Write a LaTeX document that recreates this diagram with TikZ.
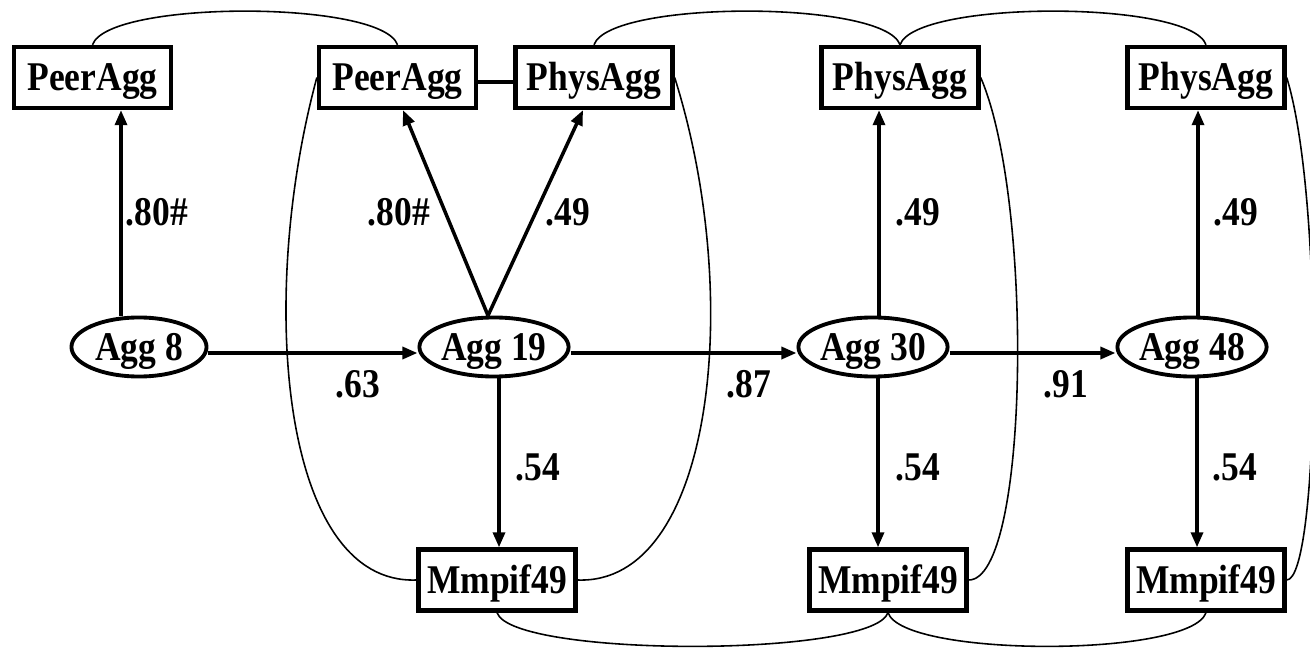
\documentclass[tikz,border=0pt]{standalone}
\usepackage{fontspec}
\setmainfont{Liberation Serif}[FakeStretch=0.87]
\usetikzlibrary{shapes.geometric, arrows.meta}

\tikzstyle{obs} = [draw, line width=1.2pt, minimum width=1.57cm, minimum height=0.61cm, inner sep=0pt, text height=7.6pt, text depth=0pt]
\tikzstyle{lat} = [draw, ellipse, line width=1.1pt, minimum width=1.35cm, minimum height=0.59cm, inner sep=0pt, text height=7.6pt, text depth=0pt]
\tikzstyle{path} = [line width=1pt, -{Triangle[length=4.3pt, width=3.4pt]}]
\tikzstyle{cov} = [line width=0.45pt]
\tikzstyle{coef} = [inner sep=0pt, text height=7.6pt, text depth=0pt]

\begin{document}
\begin{tikzpicture}[x=0.01cm, y=0.01cm, font=\bfseries\fontsize{11.6}{14}\selectfont]
\useasboundingbox (0,0) rectangle (1310,-652);

\node[obs] (peer1) at (92.5,-77.5) {PeerAgg};
\node[obs] (peer2) at (397.5,-77.5) {PeerAgg};
\node[obs] (phys2) at (594,-77.5) {PhysAgg};
\node[obs] (phys3) at (900,-77.5) {PhysAgg};
\node[obs] (phys4) at (1206,-77.5) {PhysAgg};

\node[lat] (agg8) at (139,-347) {Agg 8};
\node[lat] (agg19) at (494,-347) {Agg 19};
\node[lat] (agg30) at (873,-347) {Agg 30};
\node[lat] (agg48) at (1192,-347) {Agg 48};

\node[obs] (mm1) at (497,-580) {Mmpif49};
\node[obs] (mm2) at (888,-580) {Mmpif49};
\node[obs] (mm3) at (1206,-580) {Mmpif49};

\draw[path] ([xshift=-0.18cm]agg8.north) -- ([xshift=-0.18cm]agg8.north |- peer1.south);
\draw[path] ([xshift=-0.06cm]agg19.north) -- ([xshift=0.055cm]peer2.south);
\draw[path] ([xshift=-0.06cm]agg19.north) -- ([xshift=-0.11cm]phys2.south);
\draw[path] ([xshift=0.06cm]agg30.north) -- ([xshift=0.06cm]agg30.north |- phys3.south);
\draw[path] ([xshift=0.06cm]agg48.north) -- ([xshift=0.06cm]agg48.north |- phys4.south);

\draw[path] ([xshift=0.05cm]agg19.south) -- ([xshift=0.05cm]agg19.south |- mm1.north);
\draw[path] ([xshift=0.05cm]agg30.south) -- ([xshift=0.05cm]agg30.south |- mm2.north);
\draw[path] ([xshift=0.05cm]agg48.south) -- ([xshift=0.05cm]agg48.south |- mm3.north);

\draw[path] ([yshift=-0.06cm]agg8.east) -- ([yshift=-0.06cm]agg19.west);
\draw[path] ([yshift=-0.06cm]agg19.east) -- ([yshift=-0.06cm]agg30.west);
\draw[path] ([yshift=-0.06cm]agg30.east) -- ([yshift=-0.06cm]agg48.west);

\draw[line width=1pt] ([yshift=-0.045cm]peer2.east) -- ([yshift=-0.045cm]phys2.west);

\draw[cov] (peer1.north) .. controls +(15,45) and +(-15,45) .. (peer2.north);
\draw[cov] (phys2.north) .. controls +(15,45) and +(-15,45) .. (phys3.north);
\draw[cov] (phys3.north) .. controls +(15,45) and +(-15,45) .. (phys4.north);
\draw[cov] (mm1.south) .. controls +(15,-45) and +(-15,-45) .. (mm2.south);
\draw[cov] (mm2.south) .. controls +(15,-45) and +(-15,-45) .. (mm3.south);

\draw[cov] (peer2.west) .. controls +(-60,-222) and +(-135,-5) .. (mm1.west);
\draw[cov] (phys2.east) .. controls +(70,-222) and +(135,-5) .. (mm1.east);
\draw[cov] (phys3.east) .. controls +(53,-122) and +(61,0) .. (mm2.east);
\draw[cov] (phys4.east) .. controls +(38,-122) and +(33,0) .. (mm3.east);

\node[coef] (c1) at (157,-212) {.80\#};
\node[coef] (c2) at (399,-212) {.80\#};
\node[coef] (c3) at (568,-212) {.49};
\node[coef] (c4) at (918,-212) {.49};
\node[coef] (c5) at (1236,-212) {.49};
\node[coef] (c6) at (358,-384) {.63};
\node[coef] (c7) at (749,-384) {.87};
\node[coef] (c8) at (1066,-384) {.91};
\node[coef] (c9) at (538,-467) {.54};
\node[coef] (c10) at (918,-467) {.54};
\node[coef] (c11) at (1235,-467) {.54};
\end{tikzpicture}
\end{document}
